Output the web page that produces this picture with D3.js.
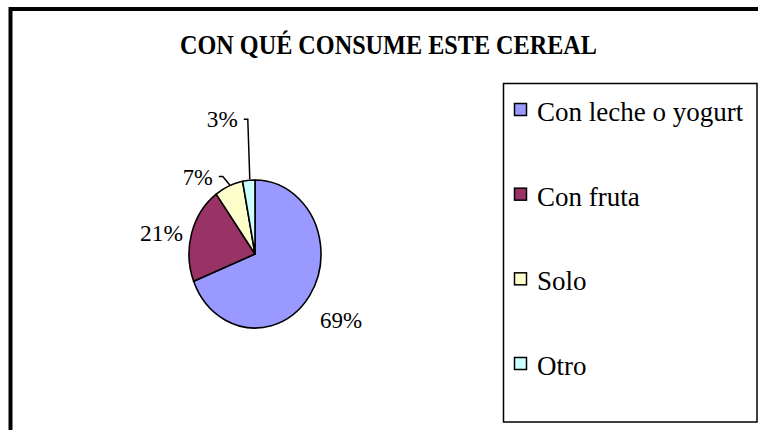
<!DOCTYPE html>
<html>
<head>
<meta charset="utf-8">
<script src="https://cdn.jsdelivr.net/npm/d3@7/dist/d3.min.js"></script>
</head>
<body style="margin:0;background:#fff">
<svg id="fig" width="758" height="430" style="display:block" font-family="Liberation Serif"></svg>
<script>
// ---- data ----
const title = "CON QUÉ CONSUME ESTE CEREAL";
const categories = ["Con leche o yogurt", "Con fruta", "Solo", "Otro"];
const values = [69, 21, 7, 3];
const labels = ["69%", "21%", "7%", "3%"];
const colors = ["#9999FF", "#993366", "#FFFFCC", "#CCFFFF"];

// ---- layout ----
const FONT = "'Liberation Serif', 'Times New Roman', Times, serif";
const W = 758, H = 430;
const cx = 255, cy = 254, rx = 66, ry = 74;
// label placement relative to the slice's outer arc midpoint
const labelLayout = [
  { dx: 10.5, dy: 32, anchor: "start", len: 42, leader: false },
  { dx: -8.5, dy: 8,  anchor: "end",   len: 43, leader: false },
  { dx: -16,  dy: -1.5, anchor: "end", len: 30, leader: true },
  { dx: -11,  dy: -53, anchor: "end",  len: 31, leader: true }
];

const svg = d3.select("#fig");
svg.append("rect").attr("width", W).attr("height", H).attr("fill", "#fff");

// outer frame (extends beyond the visible area)
svg.append("rect")
  .attr("x", 10.5).attr("y", 9)
  .attr("width", 900).attr("height", 600)
  .attr("fill", "none").attr("stroke", "#000").attr("stroke-width", 4);

// title
svg.append("text")
  .attr("x", 180).attr("y", 54)
  .style("font-family", FONT, "important")
  .attr("font-size", 27).attr("font-weight", "bold")
  .attr("textLength", 417).attr("lengthAdjust", "spacingAndGlyphs")
  .text(title);

// pie (elliptical: circle scaled horizontally)
const pie = d3.pie().sort(null).value(d => d);
const arcs = pie(values);
const arc = d3.arc().innerRadius(0).outerRadius(ry);

const g = svg.append("g")
  .attr("transform", `translate(${cx},${cy}) scale(${rx / ry},1)`);

g.selectAll("path")
  .data(arcs)
  .join("path")
  .attr("d", arc)
  .attr("fill", (d, i) => colors[i])
  .attr("stroke", "#000")
  .attr("stroke-width", 1.6)
  .attr("stroke-linejoin", "round")
  .attr("vector-effect", "non-scaling-stroke");

// labels
arcs.forEach((d, i) => {
  const a = (d.startAngle + d.endAngle) / 2;
  const px = cx + rx * Math.sin(a);
  const py = cy - ry * Math.cos(a);
  const L = labelLayout[i];
  const tx = px + L.dx, ty = py + L.dy;
  svg.append("text")
    .attr("x", tx).attr("y", ty)
    .attr("text-anchor", L.anchor)
    .style("font-family", FONT, "important")
    .attr("font-size", 23)
    .attr("textLength", L.len).attr("lengthAdjust", "spacingAndGlyphs")
    .text(labels[i]);
  if (L.leader) {
    const sx = tx + 6, sy = ty - 8;
    svg.append("path")
      .attr("d", d3.line()([[sx, sy], [sx + 4, sy], [px + 1, py - 1]]))
      .attr("fill", "none").attr("stroke", "#000").attr("stroke-width", 1.5);
  }
});

// legend
const lg = svg.append("g");
lg.append("rect")
  .attr("x", 503.5).attr("y", 83.5).attr("width", 253.5).attr("height", 338.5)
  .attr("fill", "#fff").attr("stroke", "#000").attr("stroke-width", 1.5);

const rowY = d3.scalePoint().domain(categories).range([121, 375]);
const items = lg.selectAll("g.item").data(categories).join("g").attr("class", "item");
items.append("rect")
  .attr("x", 514.5).attr("y", d => rowY(d) - 17.5)
  .attr("width", 12).attr("height", 12)
  .attr("fill", (d, i) => colors[i])
  .attr("stroke", "#000").attr("stroke-width", 1.5);
items.append("text")
  .attr("x", 537).attr("y", d => rowY(d))
  .style("font-family", FONT, "important")
  .attr("font-size", 27)
  .text(d => d);
</script>
</body>
</html>
